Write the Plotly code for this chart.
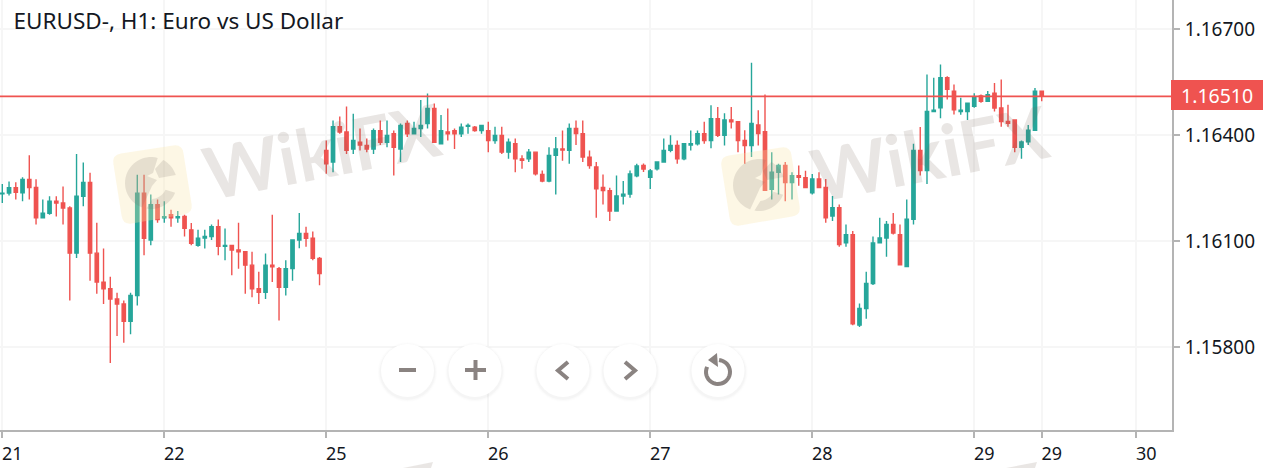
import math

import plotly.graph_objects as go

WIDTH = 1263
HEIGHT = 468
PLOT_W = 1172
PLOT_H = 430

# prices in points, 1 point = 0.00001
opens = [
    116234, 116236, 116251, 116237, 116275, 116252, 116166, 116179, 116213, 116208,
    116194, 116066, 116227, 116266, 116066, 115984, 115965, 115936, 115922, 115873,
    115946, 116236, 116103, 116203, 116166, 116175, 116166, 116170, 116132, 116088,
    116109, 116113, 116141, 116085, 116088, 116075, 116070, 116032, 115965, 115955,
    116032, 116022, 115969, 116022, 116103, 116122, 116108, 116051,
    116357, 116324, 116424, 116409, 116361, 116380, 116371, 116361, 116413, 116380,
    116404, 116361, 116433, 116404, 116419, 116433, 116476, 116376, 116409, 116413,
    116404, 116425, 116423, 116413, 116413, 116385, 116399, 116352, 116376, 116333,
    116333, 116352, 116289, 116270, 116343, 116361, 116357, 116419, 116404, 116338,
    116310, 116252, 116243, 116185, 116228, 116233, 116285,
    116314, 116281, 116305, 116324, 116357, 116371, 116333, 116372, 116376, 116404,
    116385, 116447, 116400, 116443, 116438, 116385, 116371, 116429, 116410, 116247,
    116295, 116314, 116266, 116285, 116280, 116237, 116276, 116252, 116171, 116195,
    116095, 116118, 115862, 115909, 115980, 116095, 116109, 116147, 116118, 116028,
    116162, 116357, 116300, 116467, 116478, 116563, 116525, 116467, 116467, 116482,
    116511, 116496, 116519, 116477, 116439, 116443, 116366, 116381, 116414, 116525,
]
highs = [
    116262, 116269, 116267, 116281, 116343, 116275, 116218, 116227, 116227, 116255,
    116199, 116347, 116323, 116294, 116152, 116079, 115999, 115954, 115932, 115954,
    116288, 116288, 116232, 116218, 116213, 116189, 116185, 116175, 116151, 116132,
    116132, 116147, 116161, 116136, 116089, 116152, 116070, 116070, 116013, 116065,
    116175, 116027, 116046, 116103, 116180, 116141, 116127, 116055,
    116385, 116442, 116453, 116481, 116461, 116419, 116391, 116419, 116442, 116442,
    116413, 116433, 116442, 116438, 116500, 116518, 116490, 116457, 116476, 116419,
    116433, 116433, 116426, 116428, 116438, 116424, 116424, 116391, 116391, 116343,
    116361, 116352, 116300, 116366, 116395, 116413, 116433, 116442, 116442, 116357,
    116324, 116289, 116251, 116286, 116270, 116300, 116319,
    116320, 116304, 116324, 116391, 116400, 116385, 116376, 116413, 116413, 116438,
    116485, 116480, 116462, 116480, 116438, 116414, 116605, 116471, 116515, 116352,
    116319, 116324, 116295, 116314, 116299, 116290, 116295, 116276, 116228, 116204,
    116147, 116129, 115923, 116013, 116113, 116166, 116157, 116180, 116147, 116218,
    116376, 116423, 116572, 116563, 116600, 116567, 116544, 116506, 116491, 116519,
    116515, 116525, 116548, 116558, 116486, 116443, 116385, 116429, 116534, 116525,
]
lows = [
    116208, 116229, 116218, 116213, 116218, 116147, 116166, 116175, 116170, 116147,
    115932, 116052, 116199, 115988, 115951, 115922, 115755, 115831, 115812, 115836,
    115918, 116060, 116088, 116152, 116152, 116141, 116152, 116113, 116088, 116084,
    116079, 116103, 116060, 116046, 116003, 116022, 115951, 115941, 115922, 115936,
    115984, 115875, 115946, 115988, 116080, 116084, 116046, 115975,
    116291, 116295, 116404, 116347, 116347, 116357, 116352, 116347, 116372, 116366,
    116286, 116324, 116395, 116404, 116395, 116419, 116380, 116376, 116385, 116361,
    116395, 116404, 116410, 116404, 116352, 116376, 116347, 116333, 116295, 116305,
    116324, 116286, 116267, 116267, 116232, 116328, 116319, 116372, 116324, 116305,
    116166, 116204, 116157, 116185, 116204, 116223, 116281,
    116296, 116248, 116300, 116324, 116352, 116319, 116329, 116357, 116371, 116376,
    116363, 116395, 116371, 116419, 116352, 116319, 116338, 116371, 116244, 116218,
    116232, 116213, 116218, 116257, 116252, 116232, 116252, 116152, 116157, 116084,
    116084, 115862, 115857, 115880, 115976, 116095, 116056, 116119, 116033, 116028,
    116147, 116286, 116262, 116467, 116448, 116501, 116459, 116458, 116443, 116478,
    116492, 116496, 116467, 116424, 116424, 116352, 116333, 116372, 116414, 116496,
]
closes = [
    116236, 116251, 116238, 116275, 116252, 116166, 116179, 116213, 116208, 116194,
    116066, 116227, 116266, 116066, 115984, 115965, 115936, 115922, 115873, 115946,
    116236, 116108, 116203, 116161, 116169, 116166, 116169, 116136, 116094, 116108,
    116113, 116141, 116085, 116088, 116075, 116070, 116032, 115965, 115955, 116032,
    116027, 115969, 116022, 116103, 116122, 116108, 116051, 116008,
    116319, 116424, 116409, 116357, 116385, 116372, 116361, 116413, 116380, 116399,
    116366, 116428, 116404, 116419, 116428, 116476, 116380, 116413, 116404, 116404,
    116423, 116428, 116413, 116428, 116385, 116399, 116352, 116380, 116333, 116329,
    116352, 116291, 116270, 116343, 116361, 116358, 116419, 116405, 116338, 116314,
    116248, 116243, 116185, 116228, 116233, 116290, 116313,
    116304, 116299, 116324, 116357, 116371, 116333, 116376, 116376, 116404, 116385,
    116447, 116400, 116443, 116438, 116385, 116371, 116433, 116405, 116244, 116295,
    116314, 116266, 116285, 116281, 116252, 116276, 116252, 116166, 116195, 116090,
    116118, 115866, 115909, 115980, 116095, 116109, 116147, 116123, 116033, 116162,
    116357, 116300, 116467, 116471, 116563, 116530, 116472, 116471, 116491, 116506,
    116496, 116515, 116477, 116439, 116434, 116366, 116381, 116414, 116525, 116510,
]

day_ticks = [0, 24, 48, 72, 96, 120, 144, 154, 168]
day_labels = ["21", "22", "25", "26", "27", "28", "29", "29", "30"]
price_ticks = [1.158, 1.161, 1.164, 1.167]
price_labels = ["1.15800", "1.16100", "1.16400", "1.16700"]
last_price = 1.1651
title_text = "EURUSD-, H1: Euro vs US Dollar"
watermark_text = "WikiFX"

GREEN = "#26a69a"
RED = "#ef5350"
GRID = "#f6f6f6"
AXIS = "#b4b4b4"
ICON = "#8a8381"
TEXT = "#131722"
FONT = "Noto Sans, sans-serif"
MARK = "rgba(120,100,90,0.16)"
BADGE = "rgba(120,108,100,0.17)"


def to_price(points):
    return [p / 100000 for p in points]


# overlay bits are placed in screen pixels of the plot area
def px(x, y):
    return x / PLOT_W, 1 - y / PLOT_H


def poly(points, close=False):
    parts = []
    for n, (x, y) in enumerate(points):
        fx, fy = px(x, y)
        parts.append(f"{'M' if n == 0 else 'L'}{fx:.5f},{fy:.5f}")
    return " ".join(parts) + (" Z" if close else "")


def rounded_poly(points, radius):
    parts = []
    count = len(points)
    for n in range(count):
        cx, cy = points[n]
        prev_x, prev_y = points[n - 1]
        next_x, next_y = points[(n + 1) % count]
        d_prev = math.hypot(prev_x - cx, prev_y - cy)
        d_next = math.hypot(next_x - cx, next_y - cy)
        a = px(cx + (prev_x - cx) * radius / d_prev, cy + (prev_y - cy) * radius / d_prev)
        b = px(cx + (next_x - cx) * radius / d_next, cy + (next_y - cy) * radius / d_next)
        c = px(cx, cy)
        parts.append(f"{'M' if n == 0 else 'L'}{a[0]:.5f},{a[1]:.5f}")
        parts.append(f"Q{c[0]:.5f},{c[1]:.5f} {b[0]:.5f},{b[1]:.5f}")
    return " ".join(parts) + " Z"


def path_shape(points, close=False, fill=None, line=None, width=0):
    return dict(
        type="path",
        xref="paper",
        yref="paper",
        path=poly(points, close),
        fillcolor=fill if fill else "rgba(0,0,0,0)",
        line=dict(color=line if line else "rgba(0,0,0,0)", width=width),
        layer="above",
    )


def circle_shape(cx, cy, r, fill):
    x0, y0 = px(cx - r, cy + r)
    x1, y1 = px(cx + r, cy - r)
    return dict(
        type="circle",
        xref="paper",
        yref="paper",
        x0=x0,
        y0=y0,
        x1=x1,
        y1=y1,
        fillcolor=fill,
        line=dict(width=0),
        layer="above",
    )


def arc_points(cx, cy, r, start, end, steps=28):
    pts = []
    for n in range(steps + 1):
        a = math.radians(start + (end - start) * n / steps)
        pts.append((cx + r * math.cos(a), cy + r * math.sin(a)))
    return pts


def logo_shapes(dx, dy):
    # tilted yellow card with the round eagle badge
    corners = [(112, 155), (182, 144), (193, 213), (123, 225)]
    card = [(x + dx, y + dy) for x, y in corners]
    shapes = [
        dict(
            type="path",
            xref="paper",
            yref="paper",
            path=rounded_poly(card, 9),
            fillcolor="rgba(250,228,170,0.30)",
            line=dict(width=0),
            layer="above",
        )
    ]
    cx, cy = 151 + dx, 183 + dy
    head = arc_points(cx, cy, 26, -75, -250) + [
        (cx - 4, cy + 14),
        (cx + 1, cy + 3),
        (cx + 6, cy - 3),
        (cx - 4, cy - 7),
        (cx + 2, cy - 10),
    ]
    band = arc_points(cx, cy, 26, -62, -18, 12) + [(cx + 8, cy - 5), (cx + 4, cy - 14)]
    crescent = arc_points(cx, cy, 26, 22, 100, 16) + arc_points(cx, cy, 16, 85, 25, 12)
    for part in [head, band, crescent]:
        shapes.append(path_shape(part, close=True, fill=BADGE))
    return shapes


def button_shapes():
    shapes = []
    for cx in [407.5, 475, 563, 630, 718]:
        for r, alpha in [(30, 0.008), (29, 0.012), (28, 0.018)]:
            shapes.append(circle_shape(cx, 372, r, f"rgba(0,0,0,{alpha})"))
        shapes.append(circle_shape(cx, 370.5, 26.5, "#ffffff"))
    stroke = dict(line=ICON, width=4)
    shapes.append(path_shape([(399, 370), (416, 370)], **stroke))
    shapes.append(path_shape([(465, 370), (486, 370)], **stroke))
    shapes.append(path_shape([(475.5, 360), (475.5, 380)], **stroke))
    shapes.append(path_shape([(568, 362), (558, 370.5), (568, 379)], **stroke))
    shapes.append(path_shape([(625, 362), (635, 370.5), (625, 379)], **stroke))
    shapes.append(path_shape(arc_points(718, 372, 12, -85, 205), **stroke))
    shapes.append(path_shape([(717, 353), (708, 360), (718, 367)], close=True, fill=ICON))
    return shapes


fig = go.Figure(
    go.Candlestick(
        x=list(range(len(opens))),
        open=to_price(opens),
        high=to_price(highs),
        low=to_price(lows),
        close=to_price(closes),
        increasing=dict(line=dict(color=GREEN, width=1.4), fillcolor=GREEN),
        decreasing=dict(line=dict(color=RED, width=1.4), fillcolor=RED),
        whiskerwidth=0,
        showlegend=False,
    )
)

shapes = []
shapes.append(
    dict(
        type="line",
        xref="paper",
        yref="y",
        x0=0,
        x1=1,
        y0=last_price,
        y1=last_price,
        line=dict(color=RED, width=1.6),
        layer="above",
    )
)
shapes += logo_shapes(0, 0)
shapes += logo_shapes(608, 2)
shapes += button_shapes()
# price tag next to the axis
shapes.append(path_shape([(1171, 80), (1263, 80), (1263, 110), (1171, 110)], close=True, fill=RED))
# tops of the next row of watermarks
shapes.append(path_shape([(403, 468), (433, 462), (431, 468)], close=True, fill=MARK))
shapes.append(path_shape([(1006, 468), (1037, 462), (1035, 468)], close=True, fill=MARK))

annotations = []
for x_center, y_center in [(322, 150), (930, 152)]:
    ax, ay = px(x_center, y_center)
    annotations.append(
        dict(
            text=f"<b>{watermark_text}</b>",
            xref="paper",
            yref="paper",
            x=ax,
            y=ay,
            xanchor="center",
            yanchor="middle",
            showarrow=False,
            textangle=-11,
            font=dict(family="Lato, sans-serif", size=72, color=MARK),
        )
    )
tag_x, tag_y = px(1216.5, 95.5)
annotations.append(
    dict(
        text=f"{last_price:.5f}",
        xref="paper",
        yref="paper",
        x=tag_x,
        y=tag_y,
        xanchor="center",
        yanchor="middle",
        showarrow=False,
        font=dict(family=FONT, size=19.5, color="#ffffff"),
    )
)

fig.update_layout(
    width=WIDTH,
    height=HEIGHT,
    margin=dict(l=0, r=WIDTH - PLOT_W, t=0, b=HEIGHT - PLOT_H),
    paper_bgcolor="#ffffff",
    plot_bgcolor="#ffffff",
    font=dict(family=FONT, size=18, color=TEXT),
    title=dict(
        text=title_text,
        xref="container",
        yref="container",
        x=13.5 / WIDTH,
        xanchor="left",
        y=1 - 21 / HEIGHT,
        yanchor="middle",
        font=dict(family=FONT, size=22.5, color=TEXT),
    ),
    shapes=shapes,
    annotations=annotations,
    xaxis=dict(
        range=[-0.34, 173.3],
        rangeslider=dict(visible=False),
        tickmode="array",
        tickvals=day_ticks,
        ticktext=day_labels,
        ticks="outside",
        ticklen=6,
        tickcolor=AXIS,
        tickwidth=1.5,
        ticklabelshift=10,
        showline=True,
        linecolor=AXIS,
        linewidth=2,
        gridcolor=GRID,
        gridwidth=2,
        zeroline=False,
    ),
    yaxis=dict(
        side="right",
        range=[1.15565, 1.16783],
        tickmode="array",
        tickvals=price_ticks,
        ticktext=price_labels,
        tickfont=dict(size=19),
        ticks="outside",
        ticklen=6,
        tickcolor=AXIS,
        tickwidth=1.5,
        ticklabelstandoff=1,
        showline=True,
        linecolor=AXIS,
        linewidth=2,
        gridcolor=GRID,
        gridwidth=2,
        zeroline=False,
    ),
)

fig.write_html(
    "out.html",
    config={"displayModeBar": False},
    post_script="document.body.style.margin = '0';",
)
